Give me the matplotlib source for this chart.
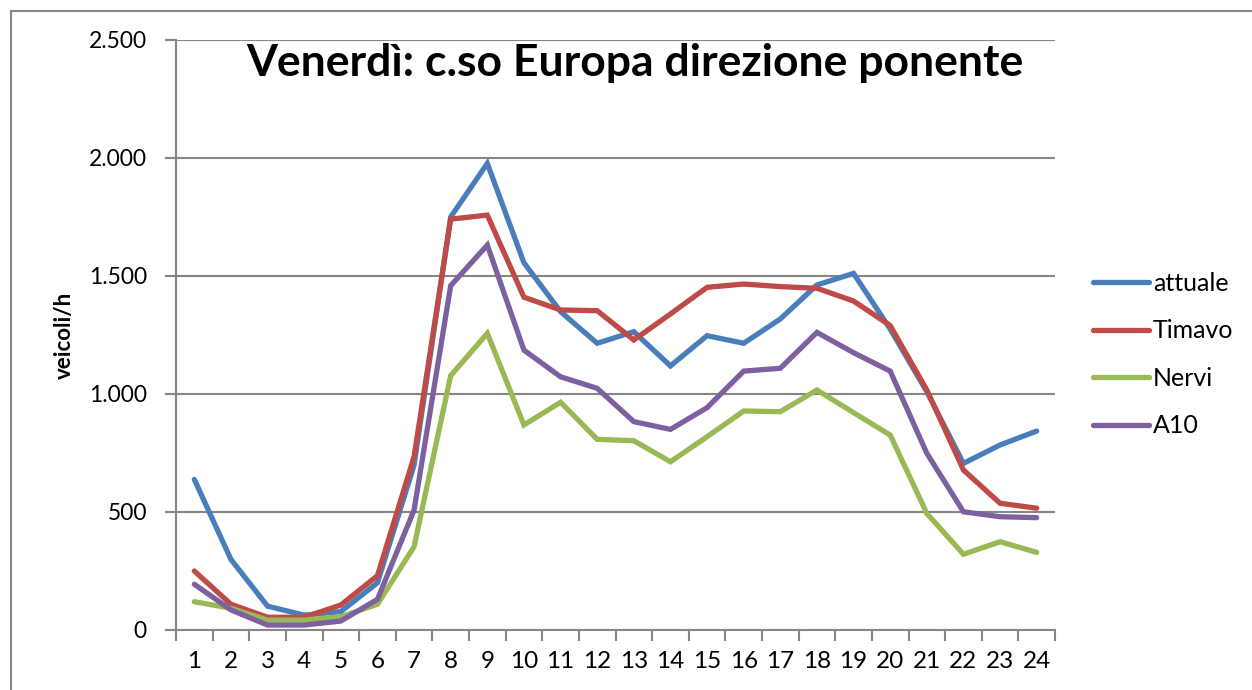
import matplotlib
matplotlib.use("Agg")
import matplotlib.pyplot as plt
from matplotlib.ticker import FuncFormatter, FixedLocator
from matplotlib.lines import Line2D

hours = list(range(1, 25))
attuale = [638, 299, 101, 63, 78, 200, 699, 1750, 1977, 1556, 1349, 1215, 1264, 1119,
           1247, 1215, 1318, 1462, 1511, 1275, 1010, 706, 784, 843]
timavo = [250, 109, 54, 54, 106, 230, 734, 1741, 1758, 1410, 1356, 1353, 1229, 1339,
          1452, 1466, 1455, 1448, 1394, 1290, 1017, 678, 537, 516]
nervi = [120, 92, 42, 42, 56, 109, 353, 1078, 1257, 869, 965, 808, 802, 713,
         819, 928, 925, 1017, 921, 826, 494, 321, 374, 329]
a10 = [194, 85, 21, 21, 38, 130, 508, 1459, 1631, 1186, 1073, 1024, 883, 850,
       942, 1097, 1109, 1261, 1175, 1097, 749, 501, 480, 476]

series_names = ["attuale", "Timavo", "Nervi", "A10"]
series_values = [attuale, timavo, nervi, a10]
colors = ["#4A7EBB", "#BE4B48", "#98B954", "#7D60A0"]

title = "Venerdì: c.so Europa direzione ponente"
ylabel = "veicoli/h"

plt.rcParams['font.family'] = ['Lato', 'DejaVu Sans']

W, H = 1252, 690
fig = plt.figure(figsize=(W / 100, H / 100), dpi=100)
ax = fig.add_axes([176 / W, 1 - 630 / H, (1055 - 176) / W, (630 - 40) / H])

for name, vals, c in zip(series_names, series_values, colors):
    ax.plot(hours, vals, color=c, lw=3.8, label=name, solid_joinstyle='miter',
            solid_capstyle='round')

ax.set_xlim(0.5, 24.5)
ax.set_ylim(0, 2500)
ax.set_yticks([0, 500, 1000, 1500, 2000, 2500])
ax.yaxis.set_major_formatter(FuncFormatter(lambda v, p: f"{int(v):,}".replace(",", ".")))
ax.set_xticks(hours)
ax.xaxis.set_minor_locator(FixedLocator([h + 0.5 for h in range(0, 25)]))
ax.tick_params(axis='x', which='major', length=0, labelsize=17.5, pad=15)
ax.tick_params(axis='x', which='minor', length=8, width=1.5, color='#868686', direction='out')
ax.tick_params(axis='y', length=8, width=1.5, color='#868686', labelsize=16.5, pad=13)

ax.grid(axis='y', color='#868686', lw=1.5)
ax.set_axisbelow(True)
for s in ['top', 'right']:
    ax.spines[s].set_visible(False)
for s in ['left', 'bottom']:
    ax.spines[s].set_color('#868686')
    ax.spines[s].set_linewidth(1.5)

ax.set_ylabel(ylabel, fontsize=16, fontweight='bold', labelpad=10)

fig.text(635 / W, 1 - 63 / H, title, ha='center', va='center', fontsize=32, fontweight='bold')

leg = fig.legend(loc='upper left', bbox_to_anchor=(1083 / W, 1 - 262 / H), frameon=False,
                 borderaxespad=0, fontsize=18, handlelength=2.24, handletextpad=0.16,
                 labelspacing=0.98)

# outer chart border
fig.add_artist(Line2D([11 / W, 1], [1 - 11 / H, 1 - 11 / H], color='#868686', lw=1.5))
fig.add_artist(Line2D([11 / W, 11 / W], [0, 1 - 11 / H], color='#868686', lw=1.5))

fig.savefig("out.png", dpi=100)
